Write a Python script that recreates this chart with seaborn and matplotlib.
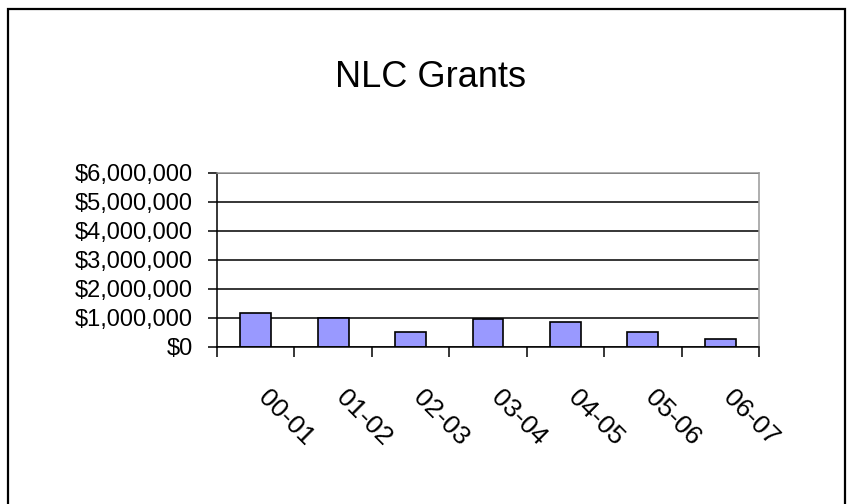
import matplotlib
matplotlib.use("Agg")
import matplotlib.pyplot as plt
import matplotlib.ticker as mticker
from matplotlib.patches import Rectangle
from matplotlib.transforms import ScaledTranslation
import numpy as np
import pandas as pd
import seaborn as sns

years = ["00-01", "01-02", "02-03", "03-04", "04-05", "05-06", "06-07"]
grants = [1170000, 1000000, 510000, 950000, 840000, 510000, 250000]
y_ticks = [0, 1000000, 2000000, 3000000, 4000000, 5000000, 6000000]

df = pd.DataFrame({"year": years, "grant": grants})

sns.set_style("white")
plt.rcParams["font.family"] = ["Liberation Sans", "DejaVu Sans"]
plt.rcParams["text.color"] = "black"
plt.rcParams["xtick.color"] = "black"
plt.rcParams["ytick.color"] = "black"

fig = plt.figure(figsize=(8.47, 5.04), dpi=100)
ax = fig.add_axes([217 / 847, 1 - 346.7 / 504, (759 - 217) / 847, (346.7 - 172.7) / 504])

sns.barplot(data=df, x="year", y="grant", color="#9999FF", saturation=1,
            edgecolor="black", linewidth=1.2, width=0.4, ax=ax)

ax.set_xlim(-0.5, len(years) - 0.5)
ax.set_ylim(0, 6000000)
ax.set_yticks(y_ticks)
ax.yaxis.set_major_formatter(mticker.FuncFormatter(lambda v, p: f"${v:,.0f}"))
ax.yaxis.grid(True, color="black", linewidth=1.1)
ax.set_axisbelow(True)
ax.set_xlabel("")
ax.set_ylabel("")

for side in ["left", "bottom"]:
    ax.spines[side].set_color("black")
    ax.spines[side].set_linewidth(1.1)
for side in ["top", "right"]:
    ax.spines[side].set_color("#999999")
    ax.spines[side].set_linewidth(1.1)

ax.tick_params(axis="y", length=6.5, width=1.1, direction="out", pad=11,
               labelsize=17, left=True, color="black", labelcolor="black")
ax.set_xticks(np.arange(-0.5, len(years), 1), minor=True)
ax.tick_params(axis="x", which="minor", length=7, width=1.1, direction="out",
               bottom=True, color="black")
ax.tick_params(axis="x", which="major", length=0, pad=0, labelsize=19, labelcolor="black")

# Excel-style slanted category labels, pushed down and right of the bar centre
offset = ScaledTranslation(0.15, -0.39, fig.dpi_scale_trans)
for label in ax.get_xticklabels():
    label.set_rotation(-45)
    label.set_rotation_mode("anchor")
    label.set_ha("left")
    label.set_va("top")
    label.set_transform(label.get_transform() + offset)

fig.text(430 / 847, 1 - 87 / 504, "NLC Grants", ha="center", va="baseline",
         fontsize=26, color="black")

fig.patches.append(Rectangle((8 / 847, -0.05), (845 - 8) / 847, 1.05 - 9 / 504,
                             transform=fig.transFigure, fill=False,
                             edgecolor="black", linewidth=1.6))

fig.savefig("out.png", dpi=100)
